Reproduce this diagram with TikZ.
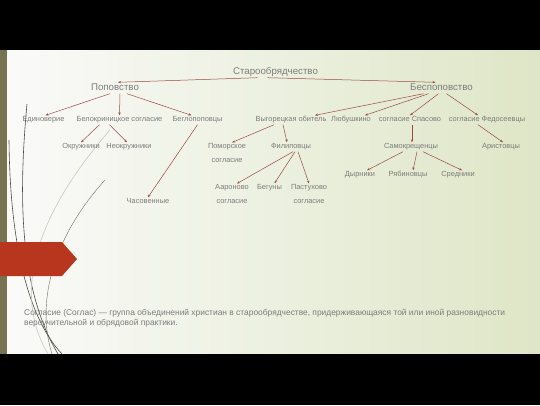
\documentclass[tikz,border=0pt]{standalone}
\usepackage{fontspec}
\setmainfont{Liberation Sans}
\usepackage{xcolor}
\usetikzlibrary{arrows.meta,calc}

\definecolor{txtgray}{HTML}{7C7C7A}
\definecolor{linkred}{HTML}{9A4A44}
\definecolor{stripe}{HTML}{77724F}
\definecolor{markred}{HTML}{B8361E}
\definecolor{wispdark}{HTML}{4E4B3F}
\definecolor{wisplight}{HTML}{C8C8BE}

\begin{document}
\begin{tikzpicture}[x=1pt, y=-1pt, >={Stealth[length=3pt,width=2.4pt]},
    title-node/.style={text=txtgray, font=\fontsize{9.7}{11}\selectfont, inner sep=1pt, text height=7pt, text depth=2pt},
    pair-node/.style={text=txtgray, font=\fontsize{7.4}{14}\selectfont, inner sep=1pt, align=center, anchor=north},
    text-node/.style={text=txtgray, font=\fontsize{7.4}{14}\selectfont, inner sep=1pt, text height=5.4pt, text depth=1.6pt},
    note-node/.style={text=txtgray, font=\fontsize{8.4}{10}\selectfont, inner sep=0pt, anchor=west},
    link/.style={->, draw=linkred, line width=0.5pt}]
    \useasboundingbox (0,0) rectangle (540,405);
    % slide background
    \shade[left color=white!92!wisplight, right color={rgb,255:red,222;green,230;blue,198}] (0,50) rectangle (540,354);
    \fill[black] (0,0) rectangle (540,50);
    \fill[black] (0,354) rectangle (540,405);
    \fill[stripe] (0,50) rectangle (7,354);
    % wisps
    \draw[wispdark, line width=0.6pt] (27,104) .. controls (18,200) and (20,290) .. (58,354);
    \draw[wispdark, line width=0.6pt] (9,140) .. controls (10,250) and (30,320) .. (62,354);
    \draw[wisplight, line width=0.6pt] (110,130) .. controls (40,210) and (10,290) .. (48,354);
    \draw[wispdark!80, line width=0.4pt] (105,180) .. controls (55,235) and (35,300) .. (52,354);
    \fill[markred] (0,242) -- (62,242) -- (77,259) -- (62,276) -- (0,276) -- cycle;

    \node[title-node] (staro) at (275.5,72) {Старообрядчество};
    \node[title-node] (popov) at (115,88) {Поповство};
    \node[title-node] (bespop) at (441.5,88) {Беспоповство};

    \node[text-node] (edin) at (43.5,120) {Единоверие};
    \node[text-node] (belokr) at (119.5,120) {Белокриницкое согласие};
    \node[text-node] (beglo) at (197.5,120) {Беглопоповцы};
    \node[text-node] (vyg) at (291,120) {Выгорецкая обитель};
    \node[text-node] (lyub) at (351,120) {Любушкино};
    \node[text-node] (spas) at (410,120) {согласие Спасово};
    \node[text-node] (fedos) at (487,120) {согласие Федосеевцы};

    \node[text-node] (okr) at (81,147) {Окружники};
    \node[text-node] (neokr) at (129,147) {Неокружники};
    \node[pair-node] (pomor) at (227,142.5) {Поморское\\согласие};
    \node[text-node] (filip) at (291,147) {Филиповцы};
    \node[text-node] (samokr) at (411,147) {Самокрещенцы};
    \node[text-node] (arist) at (501,147) {Аристовцы};

    \node[text-node] (dyr) at (360,175) {Дырники};
    \node[text-node] (ryab) at (408,175) {Рябиновцы};
    \node[text-node] (sred) at (458,175) {Средники};

    \node[pair-node] (aaron) at (232,183.5) {Аароново\\согласие};
    \node[text-node] (beg) at (269.5,188) {Бегуны};
    \node[pair-node] (past) at (309,183.5) {Пастухово\\согласие};
    \node[text-node] (chas) at (148,202) {Часовенные};

    \draw[link] ([xshift=-18pt]staro.south) -- ([xshift=3pt]popov.north);
    \draw[link] ([xshift=-8pt]staro.south) -- ([xshift=-6pt]bespop.north);
    \draw[link] ([xshift=-5pt]popov.south) -- ([xshift=2pt]edin.north);
    \draw[link] ([xshift=5pt]popov.south) -- (belokr.north);
    \draw[link] ([xshift=12pt]popov.south) -- ([xshift=-6pt]beglo.north);
    \draw[link] ([xshift=-18pt]bespop.south) -- ([xshift=24pt]vyg.north);
    \draw[link] ([xshift=-13pt]bespop.south) -- ([xshift=14pt]lyub.north);
    \draw[link] ([xshift=-3pt]bespop.south) -- (spas.north);
    \draw[link] ([xshift=5pt]bespop.south) -- ([xshift=-9pt]fedos.north);
    \draw[link] ([xshift=-20pt]belokr.south) -- (okr.north);
    \draw[link] ([xshift=-10pt]belokr.south) -- ([xshift=-2pt]neokr.north);
    \draw[link] (beglo.south) -- (chas.north);
    \draw[link] ([xshift=-17pt]vyg.south) -- ([xshift=5pt]pomor.north);
    \draw[link] ([xshift=-8pt]vyg.south) -- ([xshift=-4pt]filip.north);
    \draw[link] ([xshift=2pt]spas.south) -- ([xshift=1pt]samokr.north);
    \draw[link] ([xshift=-9pt]fedos.south) -- ([xshift=2pt]arist.north);
    \draw[link] ([xshift=-8pt]samokr.south) -- ([xshift=7pt]dyr.north);
    \draw[link] ([xshift=6pt]samokr.south) -- ([xshift=5pt]ryab.north);
    \draw[link] ([xshift=12pt]samokr.south) -- ([xshift=4pt]sred.north);
    \draw[link] ([xshift=2pt]filip.south) -- ([xshift=5pt]aaron.north);
    \draw[link] ([xshift=4pt]filip.south) -- ([xshift=5pt]beg.north);
    \draw[link] ([xshift=7pt]filip.south) -- (past.north);

    \node[note-node] (note1) at (24,313) {Согласие (Соглас) — группа объединений христиан в старообрядчестве, придерживающаяся той или иной разновидности};
    \node[note-node] (note2) at (24,323) {вероучительной и обрядовой практики.};
\end{tikzpicture}
\end{document}
